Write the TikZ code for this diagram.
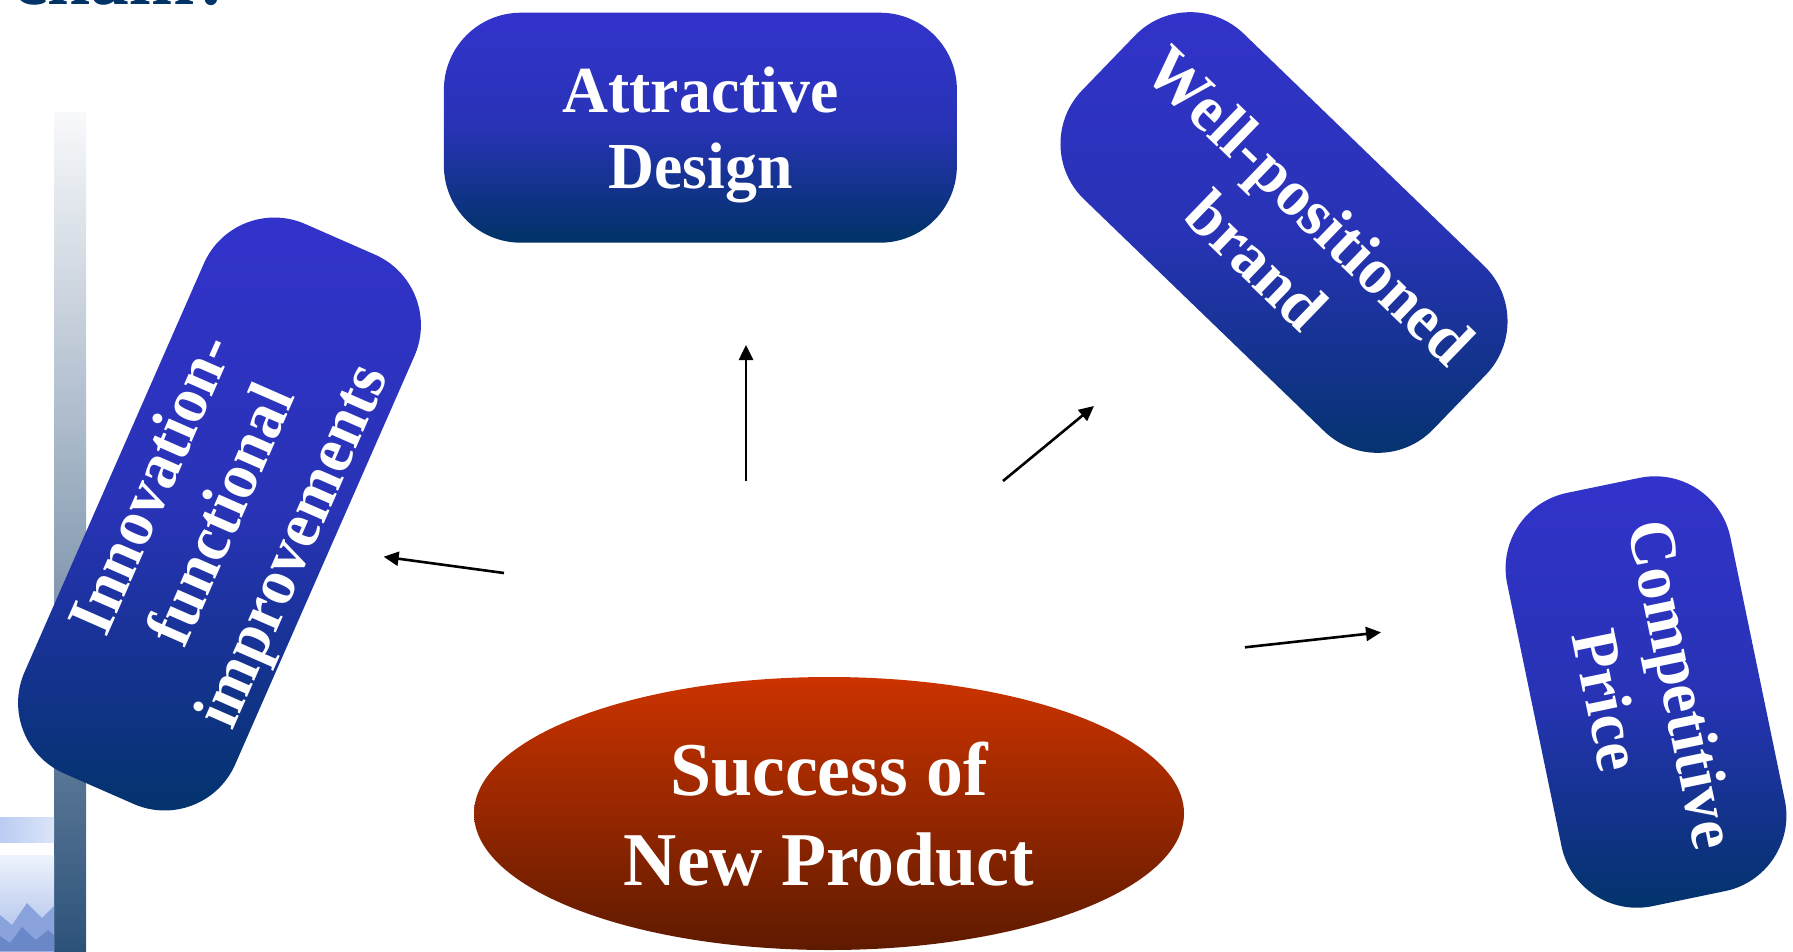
\documentclass[tikz,border=0pt]{standalone}
\usepackage{fontspec}
\setmainfont{Liberation Serif}
\newfontfamily\tnr[FakeStretch=0.97]{Liberation Serif}
\usetikzlibrary{shapes.geometric,arrows.meta}
\definecolor{boxlight}{HTML}{3333CC}
\definecolor{boxdark}{HTML}{003366}
\colorlet{boxmid}{boxlight!78!boxdark}
\definecolor{elltop}{HTML}{CC3300}
\definecolor{ellbot}{HTML}{5E1A00}
\definecolor{bartop}{HTML}{F8F9FB}
\definecolor{barbot}{HTML}{2D527A}
\definecolor{patA}{HTML}{BACCF1}
\definecolor{patB}{HTML}{DCE5F9}
\definecolor{patC}{HTML}{EEF3FD}
\definecolor{patD}{HTML}{A6BBE8}
\definecolor{patE}{HTML}{8AA3DC}
\definecolor{patF}{HTML}{6A88C8}
\tikzset{
  factor/.style={draw=none, rounded corners=77pt, top color=boxlight, bottom color=boxdark,
    middle color=boxmid,
    inner sep=0pt, text=white, align=center, text depth=0pt,
    font=\tnr\bfseries\fontsize{65.7}{76.6}\selectfont},
  core/.style={ellipse, draw=none, top color=elltop, bottom color=ellbot,
    inner sep=0pt, text=white, align=center, text depth=0pt,
    font=\tnr\bfseries\fontsize{76}{90}\selectfont},
  push/.style={line width=2.6pt, draw=black, -{Triangle[length=15pt,width=14pt]}},
  heading/.style={inner sep=0pt, text=boxdark, font=\tnr\bfseries\fontsize{80}{90}\selectfont}
}
\begin{document}
\begin{tikzpicture}[x=1pt,y=-1pt]
\useasboundingbox (0,0) rectangle (1793,951);
\clip (0,0) rectangle (1793,951);
\fill[white] (0,0) rectangle (1793,951);

% title (cut off at the top)
\node[heading, anchor=base west] (title) at (13,4) {chain?};

% left decoration
\shade[top color=bartop, bottom color=barbot] (54,112) rectangle (86,951);
\shade[left color=patA, right color=patB] (0,817) rectangle (54,842);
\shade[top color=patC, bottom color=patD] (0,855) rectangle (54,951);
\fill[patE] (0,951) -- (0,915) -- (12,925) -- (27,903) -- (42,918) -- (54,906) -- (54,951) -- cycle;
\fill[patF] (0,951) -- (0,936) -- (10,943) -- (22,927) -- (36,940) -- (48,930) -- (54,935) -- (54,951) -- cycle;

% factor boxes
\node[factor, minimum width=513pt, minimum height=230pt] (design) at (700.4,127.7) {Attractive\\Design};
\node[factor, rotate=-44, minimum width=488pt, minimum height=230pt] (brand) at (1284,232.5) {Well-positioned\\brand};
\node[factor, rotate=-78.3, minimum width=422pt, minimum height=228pt] (price) at (1646,692) {Competitive\\Price};
\node[factor, rotate=66.3, minimum width=600pt, minimum height=230pt] (innov) at (219.5,514) {Innovation-\\functional\\improvements};

% central ellipse
\node[core, minimum width=710pt, minimum height=273pt] (success) at (829,813.5) {Success of\\New Product};

% arrows
\coordinate (upS) at (746,481);
\coordinate (upE) at (746,345);
\coordinate (lfS) at (504,573);
\coordinate (lfE) at (383.6,556.7);
\coordinate (urS) at (1003,481);
\coordinate (urE) at (1094,406);
\coordinate (rtS) at (1245,647.3);
\coordinate (rtE) at (1381,632.3);
\draw[push] (upS) -- (upE);
\draw[push] (lfS) -- (lfE);
\draw[push] (urS) -- (urE);
\draw[push] (rtS) -- (rtE);
\end{tikzpicture}
\end{document}
